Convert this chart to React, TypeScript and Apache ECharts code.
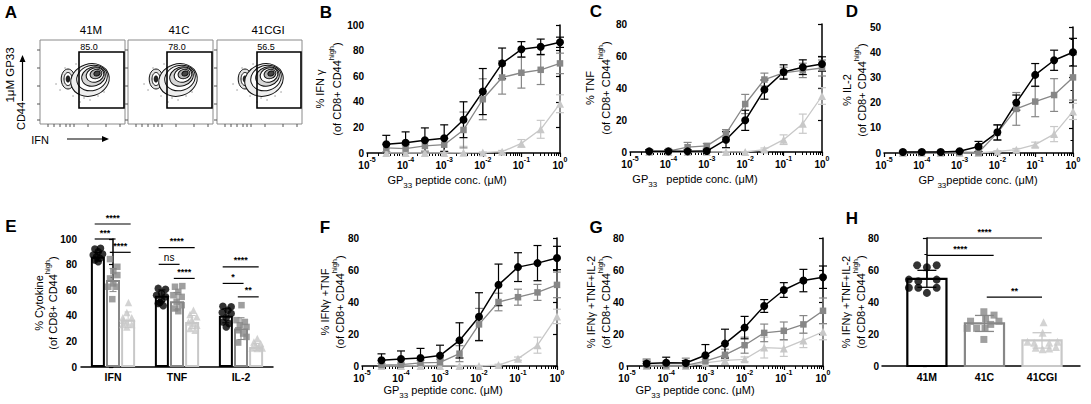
import React, { useEffect, useRef } from "react";
import * as echarts from "echarts";

const FONT = "'Liberation Sans', Arial, Helvetica, sans-serif";
const C_M = "#000000";
const C_C = "#878787";
const C_G = "#c8c8c8";

// ---------- data ----------
const strains = ["41M", "41C", "41CGI"];
const cytokines = ["IFN", "TNF", "IL-2"];
const gatePct = [85.0, 78.0, 56.5];
// log10 of GP33 peptide concentration (µM)
const doses = [-4.5, -4, -3.5, -3, -2.5, -2, -1.5, -1, -0.5, 0];

// B: % IFNγ
const bM = [6.8, 8, 10, 11.5, 26, 48, 70, 81, 83, 86.5];
const bMsd = [7, 8.5, 9.6, 10.5, 14, 18, 12, 6, 6, 4];
const bC = [4, 3.4, 5.5, 6.5, 18, 42, 59, 62.7, 65, 70];
const bCsd = [3, 3, 4, 5, 14, 16, 13, 12, 11.5, 8];
const bG = [0, 0, 0, 0, 0.2, 0.3, 1, 7.5, 18.5, 38.5];
const bGsd = [0.3, 0.3, 0.3, 0.5, 5, 0.5, 1, 3, 7, 7];
// C: % TNF
const cM = [0.4, 0.4, 0.4, 0.6, 7.7, 19.8, 39, 50, 53, 55];
const cMsd = [1, 1, 1, 1, 5, 6.3, 6, 4.5, 4.6, 4.5];
const cC = [0.3, 0.6, 3, 3.8, 11.5, 30, 45.3, 49.5, 51, 52.5];
const cCsd = [1, 1, 3, 1.5, 2.5, 6, 4, 3.5, 4.5, 5];
const cG = [0, 0, 0, 0, 0, 0, 1.5, 7.7, 17.7, 35];
const cGsd = [0.3, 0.3, 0.3, 0.3, 0.3, 0.3, 1, 3, 6, 5.2];
// D: % IL-2
const dM = [0.4, 0.4, 0.4, 0.7, 2.6, 8.2, 20, 31, 36.8, 40];
const dMsd = [0.3, 0.3, 0.3, 0.3, 2, 3, 3, 4.5, 4, 5.5];
const dC = [0.3, 0.3, 0.3, 0.3, 0.2, 8, 17.5, 20.4, 23, 30];
const dCsd = [0.3, 0.3, 0.3, 0.3, 0.3, 3, 6.5, 6, 6.5, 9];
const dG = [0, 0, 0, 0, 0, 0.6, 1.3, 3.3, 7.5, 16.5];
const dGsd = [0.2, 0.2, 0.2, 0.2, 0.2, 0.3, 0.5, 1, 3, 3.2];
// F: % IFNγ+TNF
const fM = [3.6, 4.4, 5, 6.5, 16, 30.8, 50.7, 61.8, 64.3, 67.5];
const fMsd = [4, 5, 6, 6.5, 11, 15, 13, 9, 11, 7.3];
const fC = [0.6, 0.8, 2, 2.3, 7.7, 26, 40, 43, 46, 50.7];
const fCsd = [1, 1, 1.5, 2, 5, 10, 5.5, 5, 5, 8];
const fG = [0, 0, 0, 0, 0, 0, 0.6, 4.6, 13, 31];
const fGsd = [0.3, 0.3, 0.3, 0.3, 0.3, 0.3, 0.5, 1, 5, 4.5];
// G: % IFNγ+TNF+IL-2
const gM = [1.5, 2, 1.9, 6.7, 14, 24, 37.5, 47.5, 53.4, 55.5];
const gMsd = [1.5, 3.5, 1.5, 6.7, 9, 7, 4, 4.6, 7, 7];
const gC = [0.4, 0.4, 0.4, 3, 7, 13, 20.7, 22, 26, 34.5];
const gCsd = [4, 1.5, 4.5, 3, 3.5, 5, 5.5, 5.5, 5.5, 8];
const gG = [0, 0, 0, 2, 3.5, 4.2, 11.5, 11, 16, 21.4];
const gGsd = [4, 1, 0.5, 2, 2.5, 1.5, 6.5, 5, 4.5, 5];

// E: % cytokine at 1 µM (bars = mean, points = mice)
const eMeanM = [86.2, 55.6, 40];
const eMeanC = [67.9, 51.4, 30];
const eMeanG = [37, 35.2, 15.7];
const eSdM = [3.3, 4.6, 5.5];
const eSdC = [9, 6.8, 8.5];
const eSdG = [6, 5, 2.7];
const ePtsM = [
  [92.2, 92.7, 90.1, 87.5, 88.3, 86.2, 84.9, 83.6, 82.2],
  [61.4, 60.8, 57.4, 56.1, 54.8, 52.2, 49.6, 47.8, 50.4],
  [47.5, 47, 44.4, 42.6, 41.8, 38.4, 35.2, 33.9, 31.3],
];
const eJitM = [
  [-0.43, 0.38, 0.05, -0.67, 0.67, -0.19, 0.29, -0.43, 0.05],
  [-0.52, 0.52, -0.05, -0.76, 0.52, -0.05, -0.52, 0.19, -0.29],
  [-0.43, 0.76, 0.29, -0.52, 0.76, 0.05, -0.43, 0.43, 0.05],
];
const ePtsC = [
  [84.3, 78.3, 74.9, 71.8, 69.2, 65.3, 62.7, 62.7, 53],
  [62.7, 63.2, 58.7, 56.1, 54.8, 50.9, 48.3, 45.7, 43.6],
  [48.3, 36.6, 35.2, 32.6, 31.3, 28.7, 26.1, 23.5, 19.1],
];
const eJitC = [
  [-0.43, 0.62, 0.05, 0.62, -0.43, 0.05, -0.67, 0.52, -0.1],
  [-0.29, 0.76, 0.19, -0.52, 0.67, -0.05, 0.67, -0.29, 0.19],
  [0.07, -0.64, 0.55, -0.17, 0.79, -0.4, 0.31, 0.79, -0.4],
];
const ePtsG = [
  [50.4, 42.6, 38.4, 38.4, 35.2, 33.2, 33.2, 31.3, 36.6],
  [44.4, 41, 39.2, 35.2, 33.9, 32.6, 30, 28.7, 36.6],
  [22.2, 19.6, 18.3, 17, 15.7, 14.9, 14.9, 14.4],
];
const eJitG = [
  [0.05, -0.19, -0.76, 0.52, -0.19, -0.76, 0.52, -0.19, -0.67],
  [0.19, -0.29, 0.67, -0.52, 0.19, 0.67, -0.29, 0.43, -0.05],
  [0.17, -0.31, 0.64, -0.07, 0.4, -0.55, 0.88, 0.17],
];
// significance brackets in E: [cytokine, from strain, to strain, height, label]
const eSig: [number, number, number, number, string][] = [
  [0, 0, 2, 111.7, "****"],
  [0, 0, 1, 100, "***"],
  [0, 1, 2, 89.6, "****"],
  [1, 0, 2, 93.2, "****"],
  [1, 0, 1, 80.2, "ns"],
  [1, 1, 2, 69.2, "****"],
  [2, 0, 2, 78.3, "****"],
  [2, 0, 1, 65.3, "*"],
  [2, 1, 2, 54.8, "**"],
];

// H: % IFNγ+TNF+IL-2 at 1 µM
const hMean = [54.5, 26.6, 16];
const hSd = [5.3, 5, 4.8];
const hPtsM = [63, 61.7, 63, 54, 53, 54, 48.9, 48.9, 45.7, 48.9];
const hJitM = [-0.5, 0, 0.5, -0.92, -0.44, 0.5, -0.92, -0.44, 0, 0.5];
const hPtsC = [28, 33.9, 29.7, 31.8, 28, 23.5, 23.5, 23.5, 26, 16.6];
const hJitC = [-0.71, -0.03, 0.06, 0.49, 0.74, -0.88, -0.4, 0.03, 0.32, -0.03];
const hPtsG = [27.4, 20.8, 15.2, 14.6, 14.6, 15.2, 11.4, 10.4, 11, 11.9];
const hJitG = [0.08, 0.03, -0.74, -0.4, 0.37, 0.79, -0.32, 0.03, 0.37, 0.71];
// significance brackets in H: [from, to, height, label]
const hSig: [number, number, number, string][] = [
  [0, 2, 80, "****"],
  [0, 1.16, 69.2, "****"],
  [1.04, 2, 43, "**"],
];

// ---------- styling / layout ----------
const COLORS = [C_M, C_C, C_G];
const SYMBOLS = ["circle", "rect", "triangle"];
const SIZES = [8, 6.5, 8];
const LWS = [1.5, 1.3, 1.3];

const grids = [
  { left: 367, top: 25, width: 193, height: 128 }, // B
  { left: 630, top: 24, width: 192, height: 128 }, // C
  { left: 884, top: 27, width: 189, height: 126 }, // D
  { left: 81, top: 239, width: 192, height: 128 }, // E
  { left: 362, top: 238, width: 195, height: 128 }, // F
  { left: 627, top: 238, width: 196, height: 128 }, // G
  { left: 882, top: 238, width: 198, height: 128 }, // H
];

const axisLine = { show: true, lineStyle: { color: "#000", width: 1.5 } };
const boldLabel = { color: "#000", fontSize: 10, fontWeight: "bold", fontFamily: FONT };
const logRich = {
  b: { fontSize: 10, fontWeight: "bold", color: "#000", fontFamily: FONT, lineHeight: 14, verticalAlign: "bottom" },
  s: { fontSize: 7, fontWeight: "bold", color: "#000", fontFamily: FONT, lineHeight: 8, verticalAlign: "top" },
};

const minorVals: number[] = [];
for (let n = -5; n < 0; n++) for (let k = 2; k <= 9; k++) minorVals.push(n + Math.log10(k));

function errRender(color: string, cap: number, lw = 1.2) {
  return (params: any, api: any) => {
    const x = api.value(0);
    const y = api.value(1);
    const e = api.value(2);
    const top = api.coord([x, y + e]);
    const bot = api.coord([x, Math.max(0, y - e)]);
    const style = { stroke: color, lineWidth: lw };
    return {
      type: "group",
      children: [
        { type: "line", shape: { x1: top[0], y1: top[1], x2: bot[0], y2: bot[1] }, style },
        { type: "line", shape: { x1: top[0] - cap, y1: top[1], x2: top[0] + cap, y2: top[1] }, style },
        { type: "line", shape: { x1: bot[0] - cap, y1: bot[1], x2: bot[0] + cap, y2: bot[1] }, style },
      ],
    };
  };
}

function sigRender(labels: string[]) {
  return (params: any, api: any) => {
    const a = api.coord([api.value(0), api.value(2)]);
    const b = api.coord([api.value(1), api.value(2)]);
    const label = labels[params.dataIndex];
    return {
      type: "group",
      children: [
        { type: "line", shape: { x1: a[0], y1: a[1], x2: b[0], y2: b[1] }, style: { stroke: "#000", lineWidth: 1.2 } },
        {
          type: "text",
          x: (a[0] + b[0]) / 2,
          y: a[1] - 2,
          style: {
            text: label,
            fontSize: label === "ns" ? 10 : 9,
            fontWeight: label === "ns" ? "normal" : "bold",
            fontFamily: FONT,
            fill: "#000",
            align: "center",
            verticalAlign: "bottom",
          },
        },
      ],
    };
  };
}

function buildOption() {
  const xAxis: any[] = [];
  const yAxis: any[] = [];
  const series: any[] = [];

  const LOG = [
    { grid: 0, yMax: 100, yInt: 20, minor: false, sets: [[bM, bMsd], [bC, bCsd], [bG, bGsd]] },
    { grid: 1, yMax: 80, yInt: 20, minor: false, sets: [[cM, cMsd], [cC, cCsd], [cG, cGsd]] },
    { grid: 2, yMax: 50, yInt: 10, minor: true, sets: [[dM, dMsd], [dC, dCsd], [dG, dGsd]] },
    { grid: 4, yMax: 80, yInt: 20, minor: false, sets: [[fM, fMsd], [fC, fCsd], [fG, fGsd]] },
    { grid: 5, yMax: 80, yInt: 20, minor: false, sets: [[gM, gMsd], [gC, gCsd], [gG, gGsd]] },
  ];

  LOG.forEach((p) => {
    const xi = xAxis.length;
    xAxis.push({
      type: "value",
      gridIndex: p.grid,
      position: "bottom",
      min: -5,
      max: 0,
      interval: 1,
      axisLine,
      axisTick: { show: true, length: 4, lineStyle: { color: "#000", width: 1.2 } },
      axisLabel: { margin: 3, formatter: (v: number) => `{b|10}{s|${v}}`, rich: logRich },
      splitLine: { show: false },
    });
    xAxis.push({
      type: "value",
      gridIndex: p.grid,
      position: "bottom",
      min: -5,
      max: 0,
      axisLine: { show: false },
      axisLabel: { show: false },
      axisTick: { show: true, length: 3, customValues: minorVals, lineStyle: { color: "#000", width: 1 } },
      splitLine: { show: false },
    });
    const yi = yAxis.length;
    yAxis.push({
      type: "value",
      gridIndex: p.grid,
      min: 0,
      max: p.yMax,
      interval: p.yInt,
      axisLine,
      axisTick: { show: true, length: 4, lineStyle: { color: "#000", width: 1.2 } },
      minorTick: { show: p.minor, splitNumber: 2, length: 2.5, lineStyle: { color: "#000", width: 1 } },
      axisLabel: { ...boldLabel, margin: 3 },
      splitLine: { show: false },
    });
    [2, 1, 0].forEach((s) => {
      const [vals, sds] = p.sets[s];
      series.push({
        type: "custom",
        xAxisIndex: xi,
        yAxisIndex: yi,
        renderItem: errRender(COLORS[s], 4),
        encode: { x: 0, y: 1 },
        data: doses.map((d, i) => [d, vals[i], sds[i]]),
        z: 2,
      });
      series.push({
        type: "line",
        xAxisIndex: xi,
        yAxisIndex: yi,
        data: doses.map((d, i) => [d, vals[i]]),
        symbol: SYMBOLS[s],
        symbolSize: SIZES[s],
        itemStyle: { color: COLORS[s] },
        lineStyle: { color: COLORS[s], width: LWS[s] },
        z: 2,
      });
    });
  });

  // ---- E ----
  const eCatX = xAxis.length;
  xAxis.push({
    type: "category",
    gridIndex: 3,
    data: cytokines,
    axisLine,
    axisTick: { show: false },
    axisLabel: { ...boldLabel, fontSize: 10.5, margin: 4 },
  });
  const eValX = xAxis.length;
  xAxis.push({ type: "value", gridIndex: 3, min: -0.5, max: 2.5, show: false });
  const eY = yAxis.length;
  yAxis.push({
    type: "value",
    gridIndex: 3,
    min: 0,
    max: 100,
    interval: 20,
    axisLine,
    axisTick: { show: true, length: 4, lineStyle: { color: "#000", width: 1.2 } },
    minorTick: { show: true, splitNumber: 2, length: 2.5, lineStyle: { color: "#000", width: 1 } },
    axisLabel: { ...boldLabel, margin: 4 },
    splitLine: { show: false },
  });
  const eBarW = 14;
  const eGap = 0.08;
  const eStep = (eBarW * (1 + eGap)) / (grids[3].width / 3);
  const eOff = [-eStep, 0, eStep];
  const eHalf = eBarW / 2 / (grids[3].width / 3);
  const eMeans = [eMeanM, eMeanC, eMeanG];
  const eSds = [eSdM, eSdC, eSdG];
  const ePts = [ePtsM, ePtsC, ePtsG];
  const eJit = [eJitM, eJitC, eJitG];
  [0, 1, 2].forEach((s) => {
    series.push({
      type: "bar",
      xAxisIndex: eCatX,
      yAxisIndex: eY,
      data: eMeans[s],
      barWidth: eBarW,
      barGap: `${eGap * 100}%`,
      itemStyle: { color: "#ffffff", borderColor: COLORS[s], borderWidth: 2 },
      z: 1,
    });
  });
  [2, 1, 0].forEach((s) => {
    const data: number[][] = [];
    ePts[s].forEach((arr, g) => arr.forEach((v, j) => data.push([g + eOff[s] + eJit[s][g][j] * eHalf, v])));
    series.push({
      type: "scatter",
      xAxisIndex: eValX,
      yAxisIndex: eY,
      data,
      symbol: SYMBOLS[s],
      symbolSize: s === 1 ? 6.5 : 7.5,
      itemStyle: { color: COLORS[s] },
      z: 3,
    });
    series.push({
      type: "custom",
      xAxisIndex: eValX,
      yAxisIndex: eY,
      renderItem: errRender(COLORS[s], 3.5, 1),
      encode: { x: 0, y: 1 },
      data: eMeans[s].map((m, g) => [g + eOff[s], m, eSds[s][g]]),
      z: 4,
    });
  });
  series.push({
    type: "custom",
    xAxisIndex: eValX,
    yAxisIndex: eY,
    renderItem: sigRender(eSig.map((d) => d[4])),
    encode: { x: 0, y: 2 },
    data: eSig.map((d) => [d[0] + eOff[d[1]] - 0.05, d[0] + eOff[d[2]] + 0.04, d[3]]),
    clip: false,
    z: 5,
  });

  // ---- H ----
  const hX = xAxis.length;
  xAxis.push({
    type: "value",
    gridIndex: 6,
    min: -0.78,
    max: 2.66,
    axisLine,
    axisTick: { show: false },
    axisLabel: {
      ...boldLabel,
      fontSize: 10.5,
      margin: 5,
      customValues: [0, 1, 2],
      formatter: (v: number) => (Math.abs(v - Math.round(v)) < 1e-6 && strains[Math.round(v)]) || "",
    },
    splitLine: { show: false },
  });
  const hY = yAxis.length;
  yAxis.push({
    type: "value",
    gridIndex: 6,
    min: 0,
    max: 80,
    interval: 20,
    axisLine,
    axisTick: { show: true, length: 4, lineStyle: { color: "#000", width: 1.2 } },
    minorTick: { show: true, splitNumber: 2, length: 2.5, lineStyle: { color: "#000", width: 1 } },
    axisLabel: { ...boldLabel, margin: 3 },
    splitLine: { show: false },
  });
  const hHalf = 0.34;
  const hPts = [hPtsM, hPtsC, hPtsG];
  const hJit = [hJitM, hJitC, hJitG];
  [0, 1, 2].forEach((s) => {
    series.push({
      type: "custom",
      xAxisIndex: hX,
      yAxisIndex: hY,
      encode: { x: 0, y: 1 },
      data: [[s, hMean[s]]],
      renderItem: (params: any, api: any) => {
        const x = api.value(0);
        const p0 = api.coord([x - hHalf, 0]);
        const p1 = api.coord([x + hHalf, api.value(1)]);
        return {
          type: "rect",
          shape: { x: p0[0], y: p1[1], width: p1[0] - p0[0], height: p0[1] - p1[1] },
          style: { fill: "#ffffff", stroke: COLORS[s], lineWidth: 2.2 },
        };
      },
      z: 1,
    });
  });
  [0, 1, 2].forEach((s) => {
    series.push({
      type: "scatter",
      xAxisIndex: hX,
      yAxisIndex: hY,
      data: hPts[s].map((v, j) => [s + hJit[s][j] * hHalf, v]),
      symbol: SYMBOLS[s],
      symbolSize: s === 1 ? 7 : 8,
      itemStyle: { color: COLORS[s] },
      z: 3,
    });
    series.push({
      type: "custom",
      xAxisIndex: hX,
      yAxisIndex: hY,
      renderItem: errRender(COLORS[s], 9.5, 1.3),
      encode: { x: 0, y: 1 },
      data: [[s, hMean[s], hSd[s]]],
      z: 4,
    });
  });
  series.push({
    type: "custom",
    xAxisIndex: hX,
    yAxisIndex: hY,
    renderItem: sigRender(hSig.map((d) => d[3])),
    encode: { x: 0, y: 2 },
    data: hSig.map((d) => [d[0], d[1], d[2]]),
    clip: false,
    z: 5,
  });

  return {
    animation: false,
    backgroundColor: "#ffffff",
    textStyle: { fontFamily: FONT },
    grid: grids,
    xAxis,
    yAxis,
    series,
    graphic: { elements: buildGraphics() },
  };
}

// ---------- graphic texts and panel A ----------
const supRich = {
  n: { fontSize: 11, fontFamily: FONT, fill: "#000", lineHeight: 15, verticalAlign: "bottom" },
  sup: { fontSize: 7.5, fontFamily: FONT, fill: "#000", lineHeight: 8, verticalAlign: "top" },
  sub: { fontSize: 8, fontFamily: FONT, fill: "#000", lineHeight: 8, verticalAlign: "bottom" },
  t: { fontSize: 11, fontFamily: FONT, fill: "#000", lineHeight: 15, verticalAlign: "top" },
};

function buildGraphics() {
  const els: any[] = [];
  const letters: [string, number, number][] = [
    ["A", 11, 12], ["B", 326, 12], ["C", 596, 11], ["D", 852, 11],
    ["E", 11, 226], ["F", 325, 227], ["G", 596, 227], ["H", 852, 218],
  ];
  letters.forEach(([t, x, y]) =>
    els.push({
      type: "text", x, y, z: 10,
      style: { text: t, fontSize: 17, fontWeight: "bold", fontFamily: FONT, fill: "#000", align: "center", verticalAlign: "middle" },
    })
  );

  const yTitles: [number, number, number, string][] = [
    [320, 335, 89, "% IFN γ"],
    [590, 604, 88, "% TNF"],
    [847, 860, 90, "% IL-2"],
    [39, 51, 303, "% Cytokine"],
    [325, 338, 302, "% IFNγ +TNF"],
    [591, 604, 302, "% IFNγ +TNF+IL-2"],
    [846, 859, 302, "% IFNγ +TNF+IL-2"],
  ];
  yTitles.forEach(([x1, x2, y, t]) => {
    els.push({
      type: "text", x: x1, y, rotation: Math.PI / 2, z: 10,
      style: { text: t, fontSize: 11, fontFamily: FONT, fill: "#000", align: "center", verticalAlign: "middle" },
    });
    els.push({
      type: "text", x: x2, y, rotation: Math.PI / 2, z: 10,
      style: { text: "{n|(of CD8+ CD44}{sup|high}{n|)}", rich: supRich, align: "center", verticalAlign: "middle" },
    });
  });

  const xTitles: [number, number, string][] = [
    [447, 182, "{t|GP}{sub|33}{t| peptide conc. (μM)}"],
    [695, 181, "{t|GP}{sub|33}{t|   peptide conc. (μM)}"],
    [978, 182, "{t|GP }{sub|33}{t|peptide conc. (μM)}"],
    [443, 392, "{t|GP}{sub|33}{t| peptide conc. (μM)}"],
    [695, 392, "{t|GP}{sub|33}{t| peptide conc. (μM)}"],
  ];
  xTitles.forEach(([x, y, t]) =>
    els.push({ type: "text", x, y, z: 10, style: { text: t, rich: supRich, align: "center", verticalAlign: "middle" } })
  );

  // panel A : flow cytometry contour plots
  const frameX = [40, 128, 217];
  const gateDx = [39, 39, 40];
  const FY = 40, FW = 85, FH = 84;
  const ring = (cx: number, cy: number, rot: number, rx: number, ry: number, fill: string, z: number) => ({
    type: "ellipse", x: cx, y: cy, rotation: rot, z,
    shape: { cx: 0, cy: 0, rx, ry },
    style: { fill, stroke: "#111", lineWidth: 1 },
  });
  frameX.forEach((fx, i) => {
    els.push({ type: "rect", z: 1, shape: { x: fx, y: FY, width: FW, height: FH }, style: { fill: "#fff", stroke: "#8a8a8a", lineWidth: 1 } });
    [10, 28, 46, 64, 80].forEach((dy) =>
      els.push({ type: "line", z: 1, shape: { x1: fx - 3, y1: FY + dy, x2: fx, y2: FY + dy }, style: { stroke: "#555", lineWidth: 1 } })
    );
    [8, 14, 20, 26, 30, 34, 48, 66, 80].forEach((dx) =>
      els.push({ type: "line", z: 1, shape: { x1: fx + dx, y1: FY + FH, x2: fx + dx, y2: FY + FH + 3 }, style: { stroke: "#555", lineWidth: 1 } })
    );
    // faint events
    [[20, 50], [33, 56], [44, 58], [58, 56], [25, 28], [36, 24], [64, 52], [16, 44], [50, 60], [40, 62]].forEach(([dx, dy]) =>
      els.push({ type: "circle", z: 1, shape: { cx: fx + dx, cy: FY + dy, r: 0.8 }, style: { fill: "#bbb" } })
    );
    // left (IFN-negative) population
    const lx = fx + 28, ly = FY + 39;
    els.push(ring(lx, ly, 0, 6.8, 10, "#e2e2e2", 2));
    els.push(ring(lx, ly, 0, 4, 6.5, "#ffffff", 2));
    els.push(ring(lx, ly, 0, 1.8, 3.2, "#222", 2));
    // main (IFN-positive) population
    const mx = fx + (i === 2 ? 47 : 50), my = FY + 40;
    const rot = 0.3;
    const rings: [number, number, number, number, string][] = [
      [0, 0, 19.5, 16, "#eeeeee"],
      [2, -2, 15.5, 12.5, "#ffffff"],
      [3.5, -3.5, 12, 9.5, "#d6d6d6"],
      [5, -5, 9, 7, "#ffffff"],
      [6, -6, 6, 4.6, "#b5b5b5"],
      [7, -6.5, 3.2, 2.3, "#444444"],
    ];
    rings.forEach(([dx, dy, rx, ry, fill]) => els.push(ring(mx + dx, my + dy, rot, rx, ry, fill, 3)));
    // gate
    els.push({
      type: "rect", z: 4,
      shape: { x: fx + gateDx[i], y: FY + 12, width: FW - gateDx[i] - 1, height: 56 },
      style: { fill: "none", stroke: "#000", lineWidth: 1.6 },
    });
    els.push({
      type: "text", x: fx + 49, y: FY + 7, z: 5,
      style: { text: gatePct[i].toFixed(1), fontSize: 9, fontFamily: FONT, fill: "#000", align: "center", verticalAlign: "middle" },
    });
    els.push({
      type: "text", x: fx + 51, y: 30, z: 5,
      style: { text: strains[i], fontSize: 11.5, fontFamily: FONT, fill: "#000", align: "center", verticalAlign: "middle" },
    });
  });
  els.push({
    type: "text", x: 10, y: 75, rotation: Math.PI / 2, z: 5,
    style: { text: "1μM GP33", fontSize: 11.5, fontFamily: FONT, fill: "#000", align: "center", verticalAlign: "middle" },
  });
  els.push({
    type: "text", x: 21, y: 116, rotation: Math.PI / 2, z: 5,
    style: { text: "CD44", fontSize: 11, fontFamily: FONT, fill: "#000", align: "center", verticalAlign: "middle" },
  });
  els.push({ type: "line", z: 5, shape: { x1: 22.5, y1: 101, x2: 22.5, y2: 60 }, style: { stroke: "#000", lineWidth: 1.2 } });
  els.push({ type: "polygon", z: 5, shape: { points: [[22.5, 55], [19.5, 62], [25.5, 62]] }, style: { fill: "#000" } });
  els.push({
    type: "text", x: 40, y: 140, z: 5,
    style: { text: "IFN", fontSize: 11, fontFamily: FONT, fill: "#000", align: "center", verticalAlign: "middle" },
  });
  els.push({ type: "line", z: 5, shape: { x1: 67, y1: 139, x2: 104, y2: 139 }, style: { stroke: "#000", lineWidth: 1.2 } });
  els.push({ type: "polygon", z: 5, shape: { points: [[109, 139], [102, 136], [102, 142]] }, style: { fill: "#000" } });
  return els;
}

export default function App() {
  const ref = useRef<HTMLDivElement>(null);
  useEffect(() => {
    if (!ref.current) return;
    const chart = echarts.init(ref.current, null, { renderer: "svg" });
    chart.setOption(buildOption() as any);
    return () => chart.dispose();
  }, []);
  return (
    <div
      ref={ref}
      style={{ position: "fixed", left: 0, top: 0, width: 1091, height: 404, background: "#fff" }}
    />
  );
}
